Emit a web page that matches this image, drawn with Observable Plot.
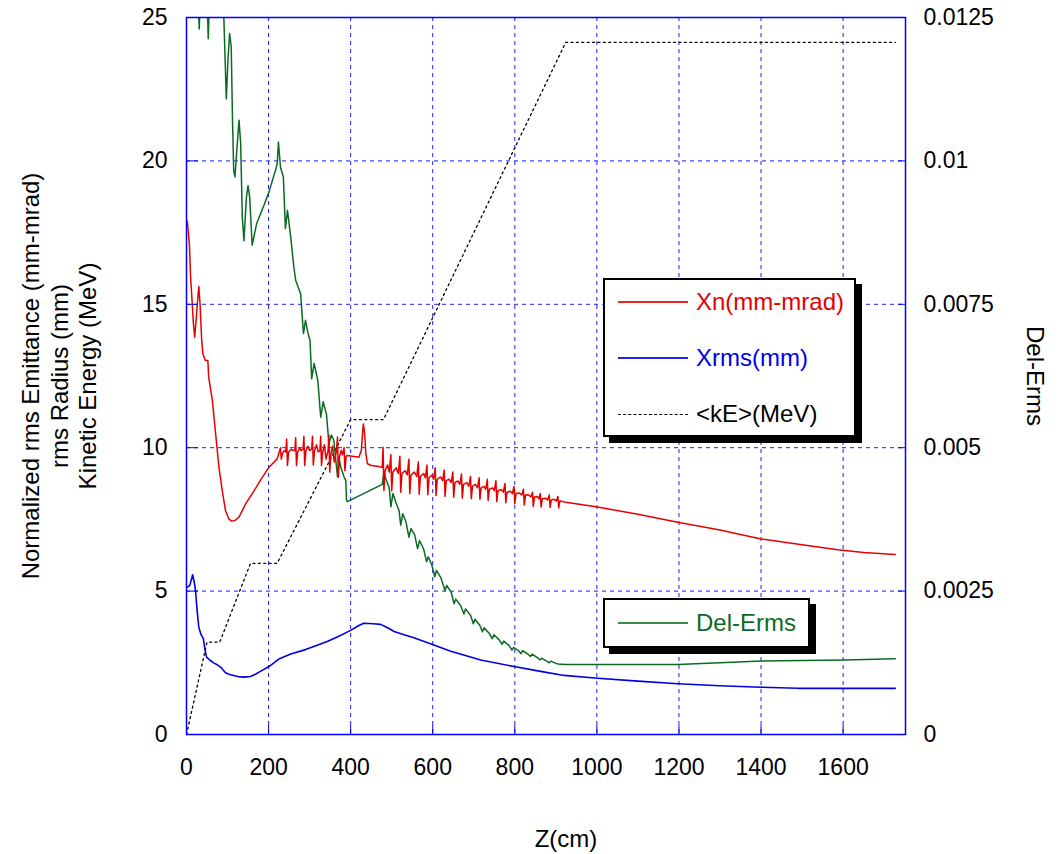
<!DOCTYPE html>
<html><head><meta charset="utf-8">
<script src="https://cdn.jsdelivr.net/npm/d3@7"></script>
<script src="https://cdn.jsdelivr.net/npm/@observablehq/plot@0.6"></script>
<style>
body{margin:0;background:#fff;font-family:"Liberation Sans",Arial,Helvetica,sans-serif}
#wrap{position:relative;width:1058px;height:854px}
.box{position:absolute;background:#fff;border:2px solid #000;box-shadow:6px 6px 0 #000;box-sizing:border-box}
.item{position:absolute;display:flex;align-items:center;font-size:24px;white-space:nowrap;height:30px}
.item .swatch{width:70px;margin-right:8px}
</style></head><body><div id="wrap"></div>
<script>
// ---- data ----
const xTicks = [0, 200, 400, 600, 800, 1000, 1200, 1400, 1600];
const yTicks = [0, 5, 10, 15, 20, 25];
const rightTicks = [0, 0.0025, 0.005, 0.0075, 0.01, 0.0125];
const leftTitleLines = ["Normalized rms Emittance (mm-mrad)", "rms Radius (mm)", "Kinetic Energy (MeV)"];
const rightTitle = "Del-Erms";
const xTitle = "Z(cm)";

// Xn (mm-mrad): [Z, value]
const xnData = [
[2,17.9],[4,17.6],[7,17.1],[10,15.95],[14,15.02],[17,14.3],[20,13.85],[24,14.55],[28,15.3],[30,15.62],[33,15.02],[37,13.74],[40,13.27],[46,13.04],[52,13.04],[54,12.46],[63,11.65],[71,10.48],[79,9.32],[87,8.51],[95,7.81],[103,7.52],[110,7.44],[118,7.46],[128,7.58],[144,8.04],[160,8.39],[180,8.86],[201,9.32],[221,9.61],
[226,9.85],[229,10.0],[231,9.6],[234,9.8],[238,9.9],[242,9.85],[244,10.3],[246,9.38],[249,9.85],[255,9.95],[260,9.9],[264,9.9],[266,10.35],[268,9.38],[271,9.85],[276,10.0],[279,9.9],[284,9.95],[286,10.4],[288,9.38],[291,9.9],[296,10.05],[300,9.9],[305,9.95],[307,10.4],[309,9.4],[312,9.9],[317,10.1],[321,9.85],[325,9.9],[327,10.4],[329,9.38],[332,9.85],[336,10.1],[340,9.6],[345,9.9],[347,10.43],[349,9.15],[352,9.8],[356,10.05],[360,9.5],[365,9.85],[368,10.37],[370,8.97],[373,9.7],[377,9.9],[380,9.75],[384,10.0],[386,9.2],[389,9.7],[392,9.73],
[420,9.67],[426,9.9],[429,10.5],[431,10.83],[434,10.5],[437,9.8],[441,9.44],[450,9.38],[465,9.35],[477,9.32],
[479,10.02],[481,8.51],[484,9.2],[490,9.4],[494,9.15],
[498,9.75],[500,8.5],[503,9.15],[511,9.3],[516,9.1],
[520,9.7],[522,8.45],[525,9.1],[533,9.2],[538,9.05],
[542,9.6],[544,8.4],[547,9.05],[555,9.15],[561,9.0],
[565,9.5],[567,8.38],[570,9.0],[578,9.1],[582,8.95],
[586,9.4],[588,8.36],[591,8.95],[598,9.05],[602,8.9],
[606,9.3],[608,8.33],[611,8.9],[619,8.98],[624,8.85],
[628,9.22],[630,8.3],[633,8.85],[640,8.9],[645,8.78],
[649,9.15],[651,8.27],[654,8.78],[661,8.84],[666,8.72],
[670,9.08],[672,8.25],[675,8.72],[683,8.78],[688,8.66],
[692,9.0],[694,8.22],[697,8.66],[704,8.72],[709,8.6],
[713,8.95],[715,8.2],[718,8.6],[725,8.65],[729,8.55],
[733,8.9],[735,8.16],[738,8.55],[746,8.6],[750,8.5],
[754,8.85],[756,8.12],[759,8.5],[767,8.54],[772,8.45],
[776,8.75],[778,8.08],[781,8.45],[789,8.48],[794,8.4],
[798,8.65],[800,8.05],[803,8.4],[811,8.42],[817,8.35],
[821,8.55],[823,8.0],[826,8.35],[833,8.36],[839,8.28],
[843,8.45],[845,7.95],[848,8.28],[855,8.3],[859,8.22],
[862,8.4],[864,7.93],[867,8.22],[875,8.24],[880,8.18],
[884,8.35],[886,7.92],[889,8.18],[896,8.2],[901,8.14],
[905,8.3],[907,7.9],[910,8.14],[918,8.12],
[924,8.1],[1002,7.93],[1100,7.68],[1197,7.40],[1300,7.13],[1400,6.82],[1500,6.62],[1587,6.44],[1650,6.35],[1727,6.28]
];

// Xrms (mm)
const xrmsData = [
[2,5.14],[8,5.2],[15,5.57],[19,5.3],[22,5.02],[26,4.3],[30,3.74],[35,3.5],[41,3.34],[45,2.95],[49,2.70],[58,2.58],[67,2.49],[75,2.43],[83,2.35],[95,2.15],[105,2.09],[115,2.06],[125,2.02],[136,2.00],[146,2.01],[156,2.02],[168,2.1],[180,2.20],[201,2.37],[225,2.63],[254,2.81],[290,2.96],[320,3.12],[343,3.24],[370,3.42],[400,3.63],[420,3.8],[432,3.88],[455,3.86],[473,3.84],[490,3.72],[506,3.59],[530,3.48],[554,3.37],[601,3.13],[644,2.90],[717,2.60],[798,2.37],[863,2.20],[920,2.06],[1002,1.96],[1100,1.86],[1197,1.77],[1300,1.70],[1400,1.65],[1490,1.61],[1727,1.61]
];

// <kE> (MeV)
const keData = [
[0,0],[50,3.22],[81,3.22],[156,5.97],[221,5.97],[400,10.98],[480,10.98],[924,24.13],[1727,24.13]
];

// Del-Erms (right axis units)
const delErmsData = [
[0,0.0135],[20,0.01325],[28,0.0129],[31,0.0123],[34,0.0129],[50,0.0129],[53,0.01213],[56,0.0129],[85,0.0129],[91,0.0125],[97,0.01108],[101,0.01175],[105,0.01222],[109,0.01199],[112,0.01075],[115,0.00984],[118,0.00972],[122,0.01013],[128,0.01071],[132,0.0103],[136,0.00902],[140,0.00861],[146,0.00937],[150,0.00957],[154,0.00937],[160,0.00853],[171,0.00891],[189,0.00923],[201,0.00946],[217,0.00984],[221,0.00995],[224,0.01033],[229,0.00989],[236,0.00972],[241,0.00882],[246,0.00914],[254,0.00867],[262,0.00812],[266,0.00792],[272,0.0078],[278,0.00769],[285,0.00699],[290,0.00722],[296,0.007],[301,0.00687],[305,0.0062],[311,0.00647],[316,0.0063],[320,0.00617],[327,0.00553],[333,0.0058],[341,0.00559],[347,0.00507],[353,0.00522],[359,0.00513],[363,0.00484],[368,0.00449],[372,0.0048],[376,0.00466],[384,0.00449],[388,0.00443],[390,0.00408],[392,0.00406],
[477,0.00436],[481,0.00458],[486,0.00445],[494,0.0043],[498,0.00397],[503,0.0042],[510,0.00405],[518,0.0039],[522,0.00365],[527,0.00385],[535,0.0037],[542,0.00344],[547,0.00359],[556,0.00348],[563,0.00324],[568,0.00338],[578,0.00323],[585,0.00301],[589,0.0031],[598,0.00295],[605,0.00275],[609,0.00286],[620,0.00273],[630,0.00251],[634,0.0026],[645,0.00248],[652,0.00228],[656,0.00236],[668,0.00225],[676,0.0021],[680,0.00219],[692,0.00208],[699,0.00193],[703,0.00201],[715,0.0019],[721,0.00179],[725,0.00186],[738,0.00176],[745,0.00167],[749,0.00174],[762,0.00165],[769,0.00157],[773,0.00163],[786,0.00155],[793,0.00147],[797,0.00152],[809,0.00146],[815,0.00141],[819,0.00146],[832,0.0014],[838,0.00136],[842,0.0014],[855,0.00134],[861,0.0013],[865,0.00133],[878,0.00128],[884,0.00125],[888,0.00128],[900,0.00124],[905,0.00123],[924,0.00122],[1000,0.00122],[1197,0.00122],[1300,0.00125],[1400,0.00128],[1500,0.00129],[1603,0.0013],[1727,0.00132]
];

const RED = "#e60000", BLUE = "#0000e6", GREEN = "#0b6b23", AXIS = "#0000ff";
const legendTop = [
  {label: "Xn(mm-mrad)", color: RED, dash: false},
  {label: "Xrms(mm)", color: BLUE, dash: false},
  {label: "<kE>(MeV)", color: "#000000", dash: true}
];
const legendBottom = [
  {label: "Del-Erms", color: "rgb(20,120,40)", dash: false}
];

// ---- chart ----
const ratio = rightTicks[rightTicks.length - 1] / yTicks[yTicks.length - 1];
const fmtRight = d => String(+(d * ratio).toFixed(4));

const chart = Plot.plot({
  width: 1058, height: 854,
  marginLeft: 186, marginRight: 153, marginTop: 17, marginBottom: 120,
  style: {fontFamily: '"Liberation Sans", Arial, Helvetica, sans-serif', fontSize: "23px", background: "white", color: "black"},
  x: {domain: [0, 1752]},
  y: {domain: [0, 25]},
  marks: [
    Plot.gridX(xTicks.slice(1), {stroke: AXIS, strokeOpacity: 0.9, strokeDasharray: "4,4", strokeWidth: 1}),
    Plot.gridY(yTicks.slice(1, -1), {stroke: AXIS, strokeOpacity: 0.9, strokeDasharray: "4,4", strokeWidth: 1}),
    Plot.line(keData, {x: d => d[0], y: d => d[1], stroke: "black", strokeWidth: 1.3, strokeDasharray: "2,3.4"}),
    Plot.line(delErmsData, {x: d => d[0], y: d => d[1] / ratio, stroke: GREEN, strokeWidth: 1.5, clip: true}),
    Plot.line(xrmsData, {x: d => d[0], y: d => d[1], stroke: BLUE, strokeWidth: 1.6}),
    Plot.line(xnData, {x: d => d[0], y: d => d[1], stroke: RED, strokeWidth: 1.5}),
    Plot.frame({stroke: AXIS, strokeWidth: 1.5}),
    Plot.axisX(xTicks, {anchor: "bottom", tickSize: -9, tickPadding: 33.5, tickFormat: d => String(d), stroke: AXIS, fill: "black", label: null}),
    Plot.axisY(yTicks, {anchor: "left", tickSize: -12, tickPadding: 31, tickFormat: d => String(d), stroke: AXIS, fill: "black", label: null}),
    Plot.axisY(rightTicks.map(v => v / ratio), {anchor: "right", tickSize: -8, tickPadding: 26, tickFormat: fmtRight, stroke: AXIS, fill: "black", label: null}),
    Plot.text([leftTitleLines.join("\n")], {text: d => d, frameAnchor: "left", textAnchor: "middle", lineAnchor: "middle", rotate: -90, dx: -128, fontSize: 24, lineHeight: 1.17, fill: "black"}),
    Plot.text([rightTitle], {text: d => d, frameAnchor: "right", textAnchor: "middle", lineAnchor: "middle", rotate: 90, dx: 129, fontSize: 24, fill: "black"}),
    Plot.text([xTitle], {text: d => d, frameAnchor: "bottom", textAnchor: "middle", lineAnchor: "middle", dx: 20, dy: 105, fontSize: 24, fill: "black"})
  ]
});
const wrap = document.getElementById("wrap");
wrap.appendChild(chart);

// ---- legends ----
function addBox(left, top, w, h) {
  const b = document.createElement("div");
  b.className = "box";
  Object.assign(b.style, {left: left + "px", top: top + "px", width: w + "px", height: h + "px"});
  wrap.appendChild(b);
}
function addItem(left, cy, it, textColor) {
  const d = document.createElement("div");
  d.className = "item";
  Object.assign(d.style, {left: left + "px", top: (cy - 15) + "px", color: textColor});
  const sw = document.createElement("div");
  sw.className = "swatch";
  sw.style.height = "0px";
  sw.style.borderTop = it.dash ? `1px dashed ${it.color}` : `2px solid ${it.color}`;
  sw.style.opacity = it.dash ? "1" : "0.85";
  const sp = document.createElement("span");
  sp.textContent = it.label;
  d.appendChild(sw);
  d.appendChild(sp);
  wrap.appendChild(d);
}
addBox(603, 278, 253, 159);
legendTop.forEach((it, i) => addItem(618, 302 + i * 56, it, it.color));
addBox(603, 598, 207, 50);
legendBottom.forEach((it, i) => addItem(618, 623, it, GREEN));
</script></body></html>
